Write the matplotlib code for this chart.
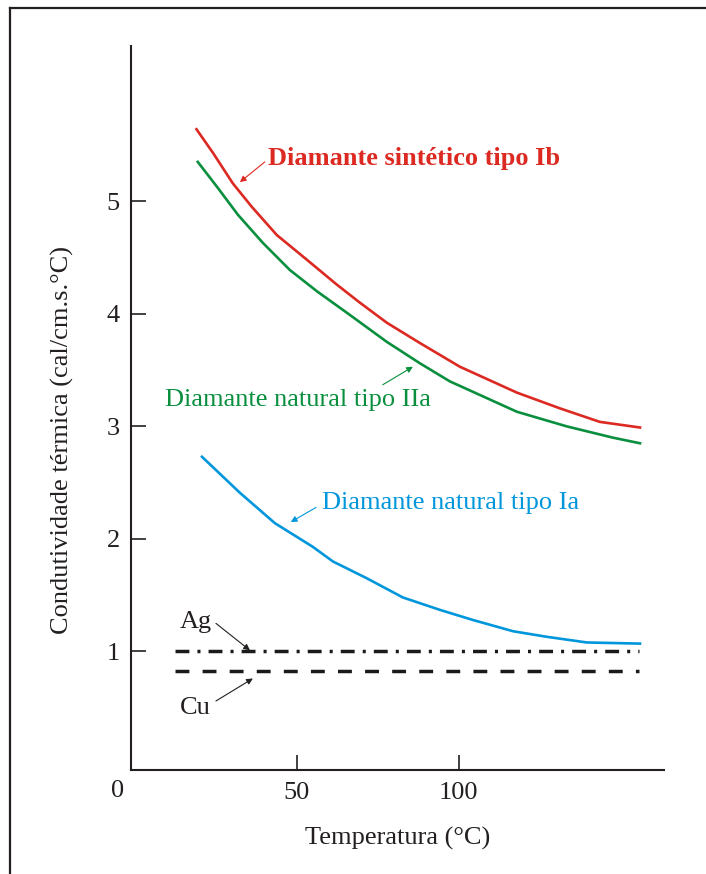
# Condutividade termica de diamantes vs temperatura
import matplotlib
matplotlib.use('Agg')
import matplotlib.pyplot as plt
from matplotlib.lines import Line2D

plt.rcParams['font.family'] = ['Liberation Serif', 'DejaVu Serif']
plt.rcParams['lines.scale_dashes'] = False

# dados
t_ib = [19.0, 24.1, 30.2, 36.1, 43.8, 53.1, 62.3, 69.4, 77.8, 88.0, 100.3, 117.9, 131.2, 143.5, 155.9]
k_ib = [5.64, 5.43, 5.16, 4.95, 4.70, 4.48, 4.26, 4.10, 3.92, 3.74, 3.53, 3.30, 3.16, 3.04, 2.99]

t_iia = [19.4, 25.3, 31.8, 39.5, 47.8, 56.2, 65.4, 77.8, 88.0, 97.2, 117.9, 133.3, 147.5, 155.9]
k_iia = [5.35, 5.13, 4.88, 4.63, 4.39, 4.20, 4.01, 3.75, 3.56, 3.40, 3.13, 3.00, 2.90, 2.85]

t_ia = [20.7, 32.4, 43.2, 54.9, 61.1, 71.6, 82.7, 94.1, 104.3, 116.7, 127.2, 139.5, 155.9]
k_ia = [2.73, 2.41, 2.14, 1.93, 1.80, 1.65, 1.48, 1.37, 1.28, 1.18, 1.13, 1.08, 1.07]

t_metal = [12.3, 155.5]
k_ag = [1.0, 1.0]
k_cu = [0.83, 0.83]

x_ticks = [50, 100]
y_ticks = [1, 2, 3, 4, 5]

red = '#dc2a22'
green = '#0a8f3e'
blue = '#0096dc'
ink = '#231f20'
fs = 19

fig = plt.figure(figsize=(7.06, 8.74), dpi=100)
ax = fig.add_axes([0.1856, 0.1190, 0.7549, 0.8284])

ax.plot(t_ib, k_ib, color=red, lw=1.9)
ax.plot(t_iia, k_iia, color=green, lw=1.9)
ax.plot(t_ia, k_ia, color=blue, lw=1.9)
ax.plot(t_metal, k_ag, color='#1a1a1a', lw=2.5, linestyle=(0, (10, 5.8, 2.2, 5.8)))
ax.plot(t_metal, k_cu, color='#1a1a1a', lw=2.5, linestyle=(0, (10, 9.5)))

ax.set_xlim(-1.2, 163.3)
ax.set_ylim(-0.053, 6.38)
ax.set_xticks(x_ticks)
ax.set_yticks(y_ticks)
ax.tick_params(direction='in', length=11, width=1.2, labelsize=fs, colors=ink)
ax.tick_params(axis='x', pad=9)
ax.tick_params(axis='y', pad=8)
for s in ['top', 'right']:
    ax.spines[s].set_visible(False)
for s in ['left', 'bottom']:
    ax.spines[s].set_linewidth(1.5)
    ax.spines[s].set_color(ink)

ax.text(-5.5, -0.24, '0', fontsize=fs, ha='center', va='center', color=ink)
ax.set_xlabel('Temperatura (°C)', fontsize=fs, labelpad=16, color=ink)
ax.set_ylabel('Condutividade térmica (cal/cm.s.°C)', fontsize=fs, color=ink)
ax.yaxis.set_label_coords(-0.107, 0.456)

arrow = dict(arrowstyle='-|>', lw=0.8, mutation_scale=9, shrinkA=0, shrinkB=0)

# rotulos das curvas
ax.text(41.0, 5.38, 'Diamante sintético tipo Ib', color=red, fontsize=fs,
        fontweight='bold', ha='left', va='center')
ax.annotate('', xy=(32.4, 5.17), xytext=(40.1, 5.35), arrowprops=dict(arrow, color=red))

ax.text(9.3, 3.23, 'Diamante natural tipo IIa', color=green, fontsize=fs,
        ha='left', va='center')
ax.annotate('', xy=(85.8, 3.53), xytext=(76.5, 3.37), arrowprops=dict(arrow, color=green))

ax.text(57.7, 2.32, 'Diamante natural tipo Ia', color=blue, fontsize=fs,
        ha='left', va='center')
ax.annotate('', xy=(48.1, 2.15), xytext=(55.9, 2.28), arrowprops=dict(arrow, color=blue))

ax.text(13.9, 1.26, 'Ag', color=ink, fontsize=fs, ha='left', va='center')
ax.annotate('', xy=(35.5, 1.01), xytext=(25.0, 1.25), arrowprops=dict(arrow, color=ink))
ax.text(13.9, 0.50, 'Cu', color=ink, fontsize=fs, ha='left', va='center')
ax.annotate('', xy=(36.4, 0.76), xytext=(25.0, 0.56), arrowprops=dict(arrow, color=ink))

# moldura da figura
fig.add_artist(Line2D([9.5 / 706, 9.5 / 706], [0, 1 - 7.5 / 874], color=ink, lw=1.6))
fig.add_artist(Line2D([9.5 / 706, 1], [1 - 7.5 / 874, 1 - 7.5 / 874], color=ink, lw=1.6))

fig.savefig('out.png', dpi=100)
